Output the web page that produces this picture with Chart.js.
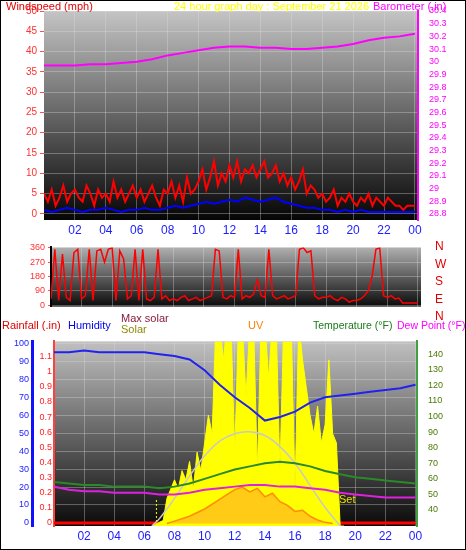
<!DOCTYPE html>
<html>
<head>
<meta charset="utf-8">
<script src="https://cdn.jsdelivr.net/npm/chart.js@4.4.1/dist/chart.umd.min.js"></script>
<style>
  body { margin: 0; background: #fff; }
  #frame { position: relative; width: 464px; height: 548px; border: 1px solid #000; overflow: hidden; font-family: "Liberation Sans", Arial, sans-serif; }
  canvas { position: absolute; left: 0; }
  .lbl { position: absolute; font-size: 11px; white-space: nowrap; line-height: 12px; }
</style>
</head>
<body>
<div id="frame">
  <canvas id="c1" width="464" height="242" style="top:-1px"></canvas>
  <canvas id="c2" width="464" height="76" style="top:238px"></canvas>
  <canvas id="c3" width="464" height="215" style="top:332px"></canvas>
  <div class="lbl" style="left:5px;top:-1px;color:#e00000">Windspeed (mph)</div>
  <div class="lbl" style="left:173px;top:-1px;color:#ffff00">24 hour graph day : September 21 2026</div>
  <div class="lbl" style="left:372px;top:-1px;color:#ff00ff">Barometer (.in)</div>
  <div class="lbl" style="left:434px;top:237px;color:#e00000;font-size:12px;line-height:17.5px">N<br>W<br>S<br>E<br>N</div>
  <div class="lbl" style="left:1px;top:318px;color:#e00000">Rainfall (.in)</div>
  <div class="lbl" style="left:67px;top:318px;color:#0000ee">Humidity</div>
  <div class="lbl" style="left:120px;top:311px;color:#8b1a3a">Max solar</div>
  <div class="lbl" style="left:120px;top:322px;color:#8b8b00">Solar</div>
  <div class="lbl" style="left:247px;top:318px;color:#ff8000">UV</div>
  <div class="lbl" style="left:312px;top:318px;color:#1a7a1a;font-size:10.5px">Temperature (°F)</div>
  <div class="lbl" style="left:396px;top:318px;color:#ff00ff;font-size:10.5px">Dew Point (°F)</div>
  <div class="lbl" style="left:338px;top:492px;color:#e8e000">Set</div>
</div>
<script>
// ---- data ----
const hourLabels = ['02','04','06','08','10','12','14','16','18','20','22','00'];
const hours = [0,1,2,3,4,5,6,7,8,9,10,11,12,13,14,15,16,17,18,19,20,21,22,23,24];

// wind gust, every 15 minutes from 00:00
const windGust = [5,3,6,2,4,7,3,5, 6,4,3,7,5,2,6,4, 5,3,8,4,6,3,5,7, 4,6,3,5,7,4,2,6,
  5,8,4,7,3,9,5,6, 8,11,6,9,13,7,10,8, 12,9,13,8,11,10,12,9, 11,13,9,10,12,8,10,7,
  9,6,8,11,5,7,6,4, 5,3,4,6,2,4,3,5, 3,2,4,3,5,2,4,3, 2,4,3,2,2,1,2,2, 2];
// wind average, every 30 minutes
const windAvg = [1,0.5,1,1.5,1,0.5,1,1,1.5,1,0.5,1,1,1.5,1,1,1.5,2,1.5,2,2.5,3,2.5,3,
  3.5,3,4,3.5,3,3.5,4,3,2.5,2,1.5,1.5,1,1,0.5,1,0.5,1,0.5,0.5,0.5,0.5,0.5,0.5,0.5];
const barometer = [29.97,29.97,29.97,29.98,29.98,29.99,30.00,30.02,30.05,30.07,30.09,30.11,30.12,
  30.12,30.11,30.11,30.10,30.10,30.11,30.12,30.14,30.17,30.19,30.20,30.22];

// wind direction (degrees), every 15 minutes
const windDir = [40,350,30,320,50,30,330,350, 40,60,350,30,340,350,270,350, 360,30,340,290,40,60,350,30,
  350,40,30,50,350,40,60,30, 40,30,50,60,30,40,50,30, 40,50,60,350,340,50,40,60,
  50,350,40,60,50,70,160,60, 50,350,60,40,50,60,40,50, 60,350,360,330,340,60,40,50,
  50,60,40,30,50,40,20,30, 30,40,60,90,180,350,360,60, 50,60,40,45,15,15,15,15, 15];

const temperature = [58,57,56,56,55,55,55,54,55,57,60,63,66,68,70,71,70,68,65,63,61,60,59,58,57];
const dewPoint = [55,53,52,52,51,51,51,50,50,51,53,54,55,56,56,55,55,54,53,51,50,49,48,48,48];
const humidity = [95,95,96,95,95,95,95,94,93,91,85,77,70,64,57,59,62,67,70,71,72,73,74,75,77];
const rainfall = [0,0,0,0,0,0,0,0,0,0,0,0,0,0,0,0,0,0,0,0,0,0,0,0,0];

// solar (W/m2), every 15 min from 06:30
const solarStart = 6.5;
const solar = [0,10,20,30,150,200,250,200,300,250,350,200,400,300,450,600,500,1100,1100,900,
  1100,1100,400,1100,1100,700,1100,1100,300,1100,1100,800,1100,1100,300,1100,1100,1100,200,1100,
  900,750,600,500,650,450,550,900,500,450,0,0];
const maxSolarHours = [6.5,7,8,9,10,11,12,13,14,15,16,17,18,19];
const maxSolar = [0,40,150,270,380,460,500,510,490,430,340,220,100,0];
const uvHours = [7.5,8,9,10,11,11.5,12,12.5,13,13.5,14,14.5,15,15.5,16,16.5,17,17.5,18,18.5];
const uv = [0,0.2,0.6,1.2,2.0,2.4,2.8,3.0,2.6,2.9,2.2,2.5,1.8,1.5,1.0,1.1,0.6,0.3,0.1,0];
const sunrise = 6.8;

// ---- helpers ----
const pts = (xs, ys) => ys.map((y, i) => ({ x: xs[i], y }));
const every = (step, start, ys) => ys.map((y, i) => ({ x: start + i * step, y }));
const font = { family: '"Liberation Sans", Arial, sans-serif', size: 10 };
const fixW = w => a => { a.width = w; };
const fixH = h => a => { a.height = h; };
const tickList = vals => a => { a.ticks = vals.map(v => ({ value: v })); };

function bgPlugin(top, bottom) {
  return {
    id: 'bg',
    beforeDraw(chart) {
      const { ctx, chartArea: a } = chart;
      const g = ctx.createLinearGradient(0, a.top, 0, a.bottom);
      g.addColorStop(0, top);
      g.addColorStop(1, bottom);
      ctx.save();
      ctx.fillStyle = g;
      ctx.fillRect(a.left, a.top, a.right - a.left, a.bottom - a.top);
      ctx.restore();
    }
  };
}
const grid = { color: 'rgba(220,220,220,0.35)', borderDash: [1, 2], lineWidth: 1 };
const line = (data, color, extra) => Object.assign({ data, borderColor: color, borderWidth: 2, pointRadius: 0, tension: 0, fill: false }, extra || {});
const xAxis = (show) => ({
  type: 'linear', min: 0, max: 24.2,
  afterBuildTicks: tickList(hourLabels.map((_, i) => (i + 1) * 2)),
  ticks: { display: show, autoSkip: false, color: '#2020ff', font: { ...font, size: 12 }, maxRotation: 0,
    callback: v => hourLabels[v / 2 - 1] },
  grid: { ...grid, drawTicks: false }, border: { display: false },
  afterFit: fixH(show ? 22 : 0)
});
const base = { responsive: false, animation: false, plugins: { legend: { display: false }, tooltip: { enabled: false } } };

const baroTicks = [];
for (let i = 0; i <= 16; i++) baroTicks.push(+(28.8 + i / 10).toFixed(1));
const rainTicks = [];
for (let i = 0; i <= 11; i++) rainTicks.push(i / 10);

// ---- panel 1: wind speed + barometer ----
new Chart(document.getElementById('c1'), {
  type: 'line',
  data: { datasets: [
    line(pts(hours, barometer), '#ff00ff', { yAxisID: 'baro' }),
    line(every(0.25, 0, windGust), '#ff0000', { yAxisID: 'wind' }),
    line(every(0.5, 0, windAvg), '#0000ff', { yAxisID: 'wind' })
  ] },
  options: { ...base, layout: { padding: { top: 11 } },
    scales: {
      x: xAxis(true),
      wind: { position: 'left', min: -1.5, max: 50,
        afterBuildTicks: tickList([0,5,10,15,20,25,30,35,40,45,50]),
        ticks: { autoSkip: false, color: '#ff3030', font }, grid: { ...grid, tickColor: '#ff5050', tickLength: 4, tickBorderDash: [] },
        border: { display: false }, afterFit: fixW(43) },
      baro: { position: 'right', min: 28.7525, max: 30.4,
        afterBuildTicks: tickList(baroTicks),
        ticks: { autoSkip: false, color: '#ff00ff', font: { ...font, size: 9 }, callback: v => String(v) }, grid: { display: false },
        border: { color: '#ff00ff', width: 2, dash: [2, 2] }, afterFit: fixW(47) }
    } },
  plugins: [bgPlugin('#c4c4c4', '#050505')]
});

// ---- panel 2: wind direction ----
new Chart(document.getElementById('c2'), {
  type: 'line',
  data: { datasets: [ line(every(0.25, 0, windDir), '#ff0000', { borderWidth: 1.5 }) ] },
  options: { ...base, layout: { padding: { top: 6, bottom: 4 } },
    scales: {
      x: xAxis(false),
      y: { min: -8, max: 362,
        afterBuildTicks: tickList([0,90,180,270,360]),
        ticks: { autoSkip: false, color: '#ff3030', font: { ...font, size: 9 } }, grid: { ...grid, drawTicks: true, tickColor: '#ff5050', tickLength: 3 },
        border: { color: '#000', width: 2 }, afterFit: fixW(50) },
      r: { position: 'right', display: true, ticks: { display: false }, grid: { display: false }, border: { display: false }, afterFit: fixW(44) }
    } },
  plugins: [bgPlugin('#b0b0b0', '#0a0a0a')]
});

// ---- panel 3: temperature, humidity, solar, uv, rain ----
new Chart(document.getElementById('c3'), {
  type: 'line',
  data: { datasets: [
    line(pts(hours, humidity), '#2222ee', { yAxisID: 'hum' }),
    line(pts(hours, temperature), '#2a8a2a', { yAxisID: 'temp' }),
    line(pts(hours, dewPoint), '#e020e0', { yAxisID: 'temp' }),
    line(pts(maxSolarHours, maxSolar), '#c8c8c8', { yAxisID: 'sol', tension: 0.4, borderWidth: 1.5 }),
    line(pts(uvHours, uv), '#ff8c00', { yAxisID: 'uv', fill: 'origin', backgroundColor: 'rgba(255,160,40,0.55)', borderWidth: 1.5 }),
    line(every(0.25, solarStart, solar), '#ffff00', { yAxisID: 'sol', fill: 'origin', backgroundColor: '#ffff00', borderWidth: 1 }),
    line([{ x: sunrise, y: 0 }, { x: sunrise, y: 150 }], '#ffff00', { yAxisID: 'sol', borderWidth: 1, borderDash: [2, 2] }),
    line(pts(hours, rainfall), '#ff0000', { yAxisID: 'rain', borderWidth: 3 })
  ] },
  options: { ...base, layout: { padding: { top: 5 } },
    scales: {
      x: { ...xAxis(true), max: 24.1 },
      hum: { position: 'left', weight: 2, min: -1.7, max: 101.1,
        afterBuildTicks: tickList([0,10,20,30,40,50,60,70,80,90,100]),
        ticks: { autoSkip: false, color: '#2020ff', font: { ...font, size: 9 }, padding: 3 }, grid: { ...grid, drawTicks: false },
        border: { color: '#1010ff', width: 3 }, afterFit: fixW(31) },
      rain: { position: 'left', weight: 1, min: -0.02, max: 1.2,
        afterBuildTicks: tickList(rainTicks),
        ticks: { autoSkip: false, color: '#ff2020', font: { ...font, size: 9 }, padding: 2, callback: v => String(v) }, grid: { display: false, drawTicks: false },
        border: { color: '#ff4040', width: 2, dash: [2, 2] }, afterFit: fixW(22) },
      temp: { position: 'right', min: 29.7, max: 148.3,
        afterBuildTicks: tickList([40,50,60,70,80,90,100,110,120,130,140]),
        ticks: { autoSkip: false, color: '#4a7a00', font: { ...font, size: 9 } }, grid: { display: false },
        border: { color: '#40a040', width: 2, dash: [2, 2] }, afterFit: fixW(48) },
      sol: { display: false, min: 0, max: 1000 },
      uv: { display: false, min: -0.2, max: 15 }
    } },
  plugins: [bgPlugin('#c0c0c0', '#0a0a0a')]
});
</script>
</body>
</html>
